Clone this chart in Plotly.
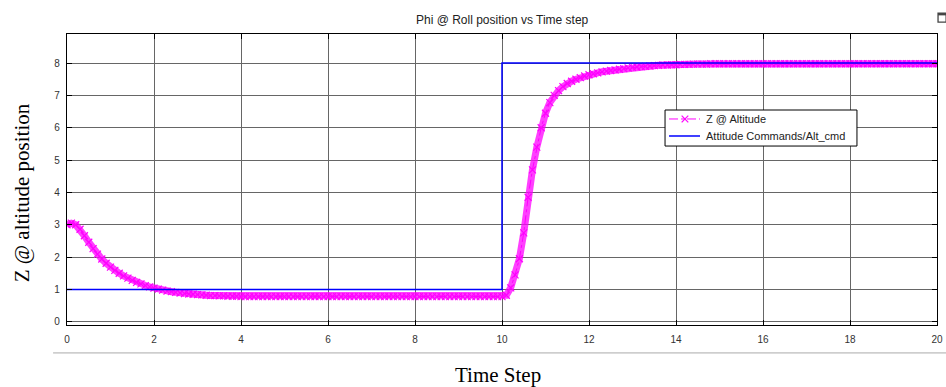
import plotly.graph_objects as go

time_z = [round(i * 0.1, 1) for i in range(201)]
z_alt = [
    3.00, 3.05, 3.00, 2.86, 2.66, 2.46, 2.26, 2.09, 1.94, 1.81,
    1.69, 1.59, 1.50, 1.42, 1.35, 1.28, 1.22, 1.17, 1.12, 1.08,
    1.04, 1.01, 0.98, 0.95, 0.93, 0.91, 0.89, 0.87, 0.86, 0.85,
    0.84, 0.83, 0.82, 0.81, 0.81, 0.80, 0.80, 0.79, 0.79, 0.79,
    0.78, 0.78, 0.78, 0.78, 0.78, 0.78, 0.78, 0.78, 0.78, 0.78,
    0.78, 0.78, 0.78, 0.78, 0.78, 0.78, 0.78, 0.78, 0.78, 0.78,
    0.78, 0.78, 0.78, 0.78, 0.78, 0.78, 0.78, 0.78, 0.78, 0.78,
    0.78, 0.78, 0.78, 0.78, 0.78, 0.78, 0.78, 0.78, 0.78, 0.78,
    0.78, 0.78, 0.78, 0.78, 0.78, 0.78, 0.78, 0.78, 0.78, 0.78,
    0.78, 0.78, 0.78, 0.78, 0.78, 0.78, 0.78, 0.78, 0.78, 0.78,
    0.78, 0.82, 1.05, 1.45, 1.95, 2.75, 3.85, 4.70, 5.40, 6.00,
    6.45, 6.78, 7.00, 7.15, 7.27, 7.37, 7.44, 7.50, 7.55, 7.60,
    7.64, 7.67, 7.70, 7.73, 7.75, 7.77, 7.79, 7.81, 7.83, 7.85,
    7.87, 7.88, 7.89, 7.90, 7.91, 7.92, 7.93, 7.94, 7.94, 7.95,
    7.95, 7.96, 7.96, 7.96, 7.97, 7.97, 7.97, 7.97, 7.98, 7.98,
    7.98, 7.98, 7.98, 7.98, 7.98, 7.98, 7.98, 7.98, 7.98, 7.98,
    7.98, 7.98, 7.98, 7.98, 7.98, 7.98, 7.98, 7.98, 7.98, 7.98,
    7.98, 7.98, 7.98, 7.98, 7.98, 7.98, 7.98, 7.98, 7.98, 7.98,
    7.98, 7.98, 7.98, 7.98, 7.98, 7.98, 7.98, 7.98, 7.98, 7.98,
    7.98, 7.98, 7.98, 7.98, 7.98, 7.98, 7.98, 7.98, 7.98, 7.98,
    7.98,
]

# Altitude command (step)
time_cmd = [0, 10, 10, 20]
alt_cmd = [1, 1, 8, 8]

x_ticks = [0, 2, 4, 6, 8, 10, 12, 14, 16, 18, 20]
y_ticks = [0, 1, 2, 3, 4, 5, 6, 7, 8]
legend_labels = ["Z @ Altitude", "Attitude Commands/Alt_cmd"]

MAG = "#FF00FF"
BLUE = "#0000FF"
fig = go.Figure()
# dense marker band (the original is sampled so densely that the x-markers form a solid band)
fig.add_trace(go.Scatter(
    x=time_z, y=z_alt, mode="lines", showlegend=False, hoverinfo="skip",
    line=dict(color="rgba(255,0,255,0.75)", width=7),
))
fig.add_trace(go.Scatter(
    x=time_z, y=z_alt, mode="lines+markers", name=legend_labels[0], showlegend=False,
    line=dict(color=MAG, width=1, dash="dashdot"),
    marker=dict(symbol="x-thin", size=7, line=dict(color=MAG, width=1.2)),
))
fig.add_trace(go.Scatter(
    x=time_cmd, y=alt_cmd, mode="lines", name=legend_labels[1], showlegend=False,
    line=dict(color=BLUE, width=1.5),
))

axis_common = dict(
    showline=True, linecolor="black", linewidth=1.2, mirror="ticks",
    ticks="inside", ticklen=5, tickcolor="black", automargin=False,
    showgrid=True, gridcolor="#666666", gridwidth=0.6, zeroline=False,
    tickfont=dict(family="Arial, Liberation Sans, sans-serif", size=10, color="#333333"),
)

fig.update_xaxes(range=[0, 20], tickvals=x_ticks, ticklabelstandoff=5, **axis_common)
fig.update_yaxes(range=[-0.1, 8.9], tickvals=y_ticks, ticklabelstandoff=4, **axis_common)

serif = dict(family="Liberation Serif, Times New Roman, serif", size=21, color="black")
fig.add_annotation(text="Time Step", xref="paper", yref="paper", x=0.495, y=-0.172,
                   xanchor="center", yanchor="middle", showarrow=False, font=serif)
fig.add_annotation(text="Z @ altitude position", xref="paper", yref="paper", x=-0.052, y=0.455,
                   xanchor="center", yanchor="middle", showarrow=False, textangle=-90, font=serif)
fig.add_annotation(text="Phi @ Roll position vs Time step", xref="paper", yref="paper", x=0.5, y=1.048,
                   xanchor="center", yanchor="middle", showarrow=False,
                   font=dict(family="Arial, Liberation Sans, sans-serif", size=12, color="#222222"))

fig.add_shape(type="line", xref="paper", yref="paper", x0=-0.016, x1=1.02, y0=-0.096, y1=-0.096,
              line=dict(color="#AAAAAA", width=1))
# small export icon at the top-right corner
fig.add_shape(type="rect", xref="paper", yref="paper", x0=1.0012, x1=1.0105, y0=1.041, y1=1.072,
              line=dict(color="#444444", width=1.3), fillcolor="white")
fig.add_shape(type="rect", xref="paper", yref="paper", x0=1.0012, x1=1.0105, y0=1.064, y1=1.072,
              line=dict(color="#444444", width=0), fillcolor="#444444")

# legend (drawn as a MATLAB-style box)
lf = dict(family="Arial, Liberation Sans, sans-serif", size=11, color="#222222")
fig.add_shape(type="rect", xref="paper", yref="paper", x0=0.6874, x1=0.908, y0=0.615, y1=0.7388,
              line=dict(color="black", width=1), fillcolor="white", layer="above")
fig.add_shape(type="line", xref="paper", yref="paper", x0=0.692, x1=0.7276, y0=0.708, y1=0.708,
              line=dict(color=MAG, width=1, dash="dashdot"), layer="above")
for sgn in (1, -1):
    fig.add_shape(type="line", xref="paper", yref="paper", x0=0.7103 - 0.0038, x1=0.7103 + 0.0038,
                  y0=0.708 - sgn * 0.0115, y1=0.708 + sgn * 0.0115,
                  line=dict(color=MAG, width=1.2), layer="above")
fig.add_shape(type="line", xref="paper", yref="paper", x0=0.692, x1=0.7276, y0=0.6495, y1=0.6495,
              line=dict(color=BLUE, width=1.5), layer="above")
for lbl, yy in zip(legend_labels, [0.708, 0.6495]):
    fig.add_annotation(text=lbl, xref="paper", yref="paper", x=0.732, y=yy, xanchor="left",
                       yanchor="middle", showarrow=False, font=lf)

fig.update_layout(
    width=946, height=387,
    margin=dict(l=67, r=9, t=34, b=62, autoexpand=False),
    paper_bgcolor="white", plot_bgcolor="white",
    showlegend=False,
)

fig.write_html("out.html", config={"displayModeBar": False},
               post_script="document.body.style.margin='0px';document.body.style.overflow='hidden';")
